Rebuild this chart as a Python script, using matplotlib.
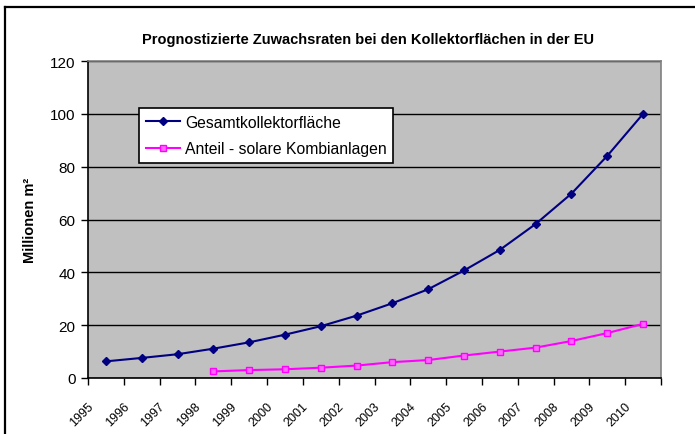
import matplotlib
matplotlib.use("Agg")
import matplotlib.pyplot as plt
from matplotlib.lines import Line2D
import numpy as np

plt.rcParams['font.family'] = ['Liberation Sans', 'DejaVu Sans']

years = ["1995", "1996", "1997", "1998", "1999", "2000", "2001", "2002",
         "2003", "2004", "2005", "2006", "2007", "2008", "2009", "2010"]
gesamt = [6.3, 7.6, 9.0, 11.1, 13.5, 16.4, 19.6, 23.6,
          28.3, 33.6, 40.7, 48.5, 58.3, 69.8, 84.1, 100.0]
kombi_years = years[3:]
kombi = [2.5, 3.0, 3.3, 3.9, 4.7, 6.0, 6.8, 8.5, 10.0, 11.5, 14.0, 17.0, 20.5]

title = "Prognostizierte Zuwachsraten bei den Kollektorflächen in der EU"
ylabel = "Millionen m²"
series_names = ["Gesamtkollektorfläche", "Anteil - solare Kombianlagen"]

W, H = 695, 435
fig = plt.figure(figsize=(W / 100, H / 100), dpi=100)
fig.patch.set_facecolor("white")

# outer chart frame (left and top edges visible)
fig.add_artist(Line2D([5 / W, 5 / W], [0, 1 - 8 / H], transform=fig.transFigure,
                      color="black", lw=1.6))
fig.add_artist(Line2D([5 / W, 1], [1 - 8 / H, 1 - 8 / H], transform=fig.transFigure,
                      color="black", lw=1.6))

left, right, bottom, top = 88 / W, 661 / W, 1 - 379 / H, 1 - 62 / H
ax = fig.add_axes([left, bottom, right - left, top - bottom])
ax.set_facecolor("#C0C0C0")

x = np.arange(len(years))
xk = np.array([years.index(y) for y in kombi_years])

ax.set_xlim(-0.5, len(years) - 0.5)
ax.set_ylim(0, 120)
ax.set_yticks(np.arange(0, 121, 20))
ax.yaxis.grid(True, color="black", lw=1.0)
ax.set_axisbelow(True)

l1, = ax.plot(x, gesamt, color="#000080", lw=1.5, marker="D", ms=4.5,
              mfc="#000080", mec="#000080", label=series_names[0])
l2, = ax.plot(xk, kombi, color="#FF00FF", lw=1.5, marker="s", ms=4.5,
              mfc="#FF66FF", mec="#FF00FF", label=series_names[1])

# category boundaries as tick marks, year labels placed near them
ax.set_xticks(np.arange(-0.5, len(years), 1.0))
ax.set_xticklabels([])
ax.tick_params(axis="x", which="major", direction="out", length=5, width=1, color="black")
ax.set_xticks(x - 0.4, minor=True)
ax.set_xticklabels(years, minor=True, rotation=45, ha="right", va="center",
                   rotation_mode="anchor", fontsize=9)
ax.tick_params(axis="x", which="minor", length=0, pad=19)

ax.tick_params(axis="y", direction="out", length=5, width=1, color="black",
               labelsize=11, pad=4)

for s in ["left", "bottom"]:
    ax.spines[s].set_color("black")
    ax.spines[s].set_linewidth(1.2)
for s in ["top", "right"]:
    ax.spines[s].set_color("#808080")
    ax.spines[s].set_linewidth(1.2)

fig.text((left + right) / 2 - 0.01, 1 - 40 / H, title, ha="center", va="center",
         fontsize=10.5, fontweight="bold")
fig.text(30 / W, (top + bottom) / 2, ylabel, rotation=90, ha="center", va="center",
         fontsize=10.5, fontweight="bold")

leg = ax.legend(handles=[l1, l2], loc="upper left",
                bbox_to_anchor=((139 - 88) / (661 - 88), (379 - 109) / (379 - 62)),
                fontsize=11.3, frameon=True, fancybox=False, edgecolor="black",
                facecolor="white", framealpha=1, borderpad=0.42, labelspacing=0.75,
                handlelength=2.2, handletextpad=0.3, borderaxespad=0)
leg.get_frame().set_linewidth(1.2)

fig.savefig("out.png", dpi=100)
